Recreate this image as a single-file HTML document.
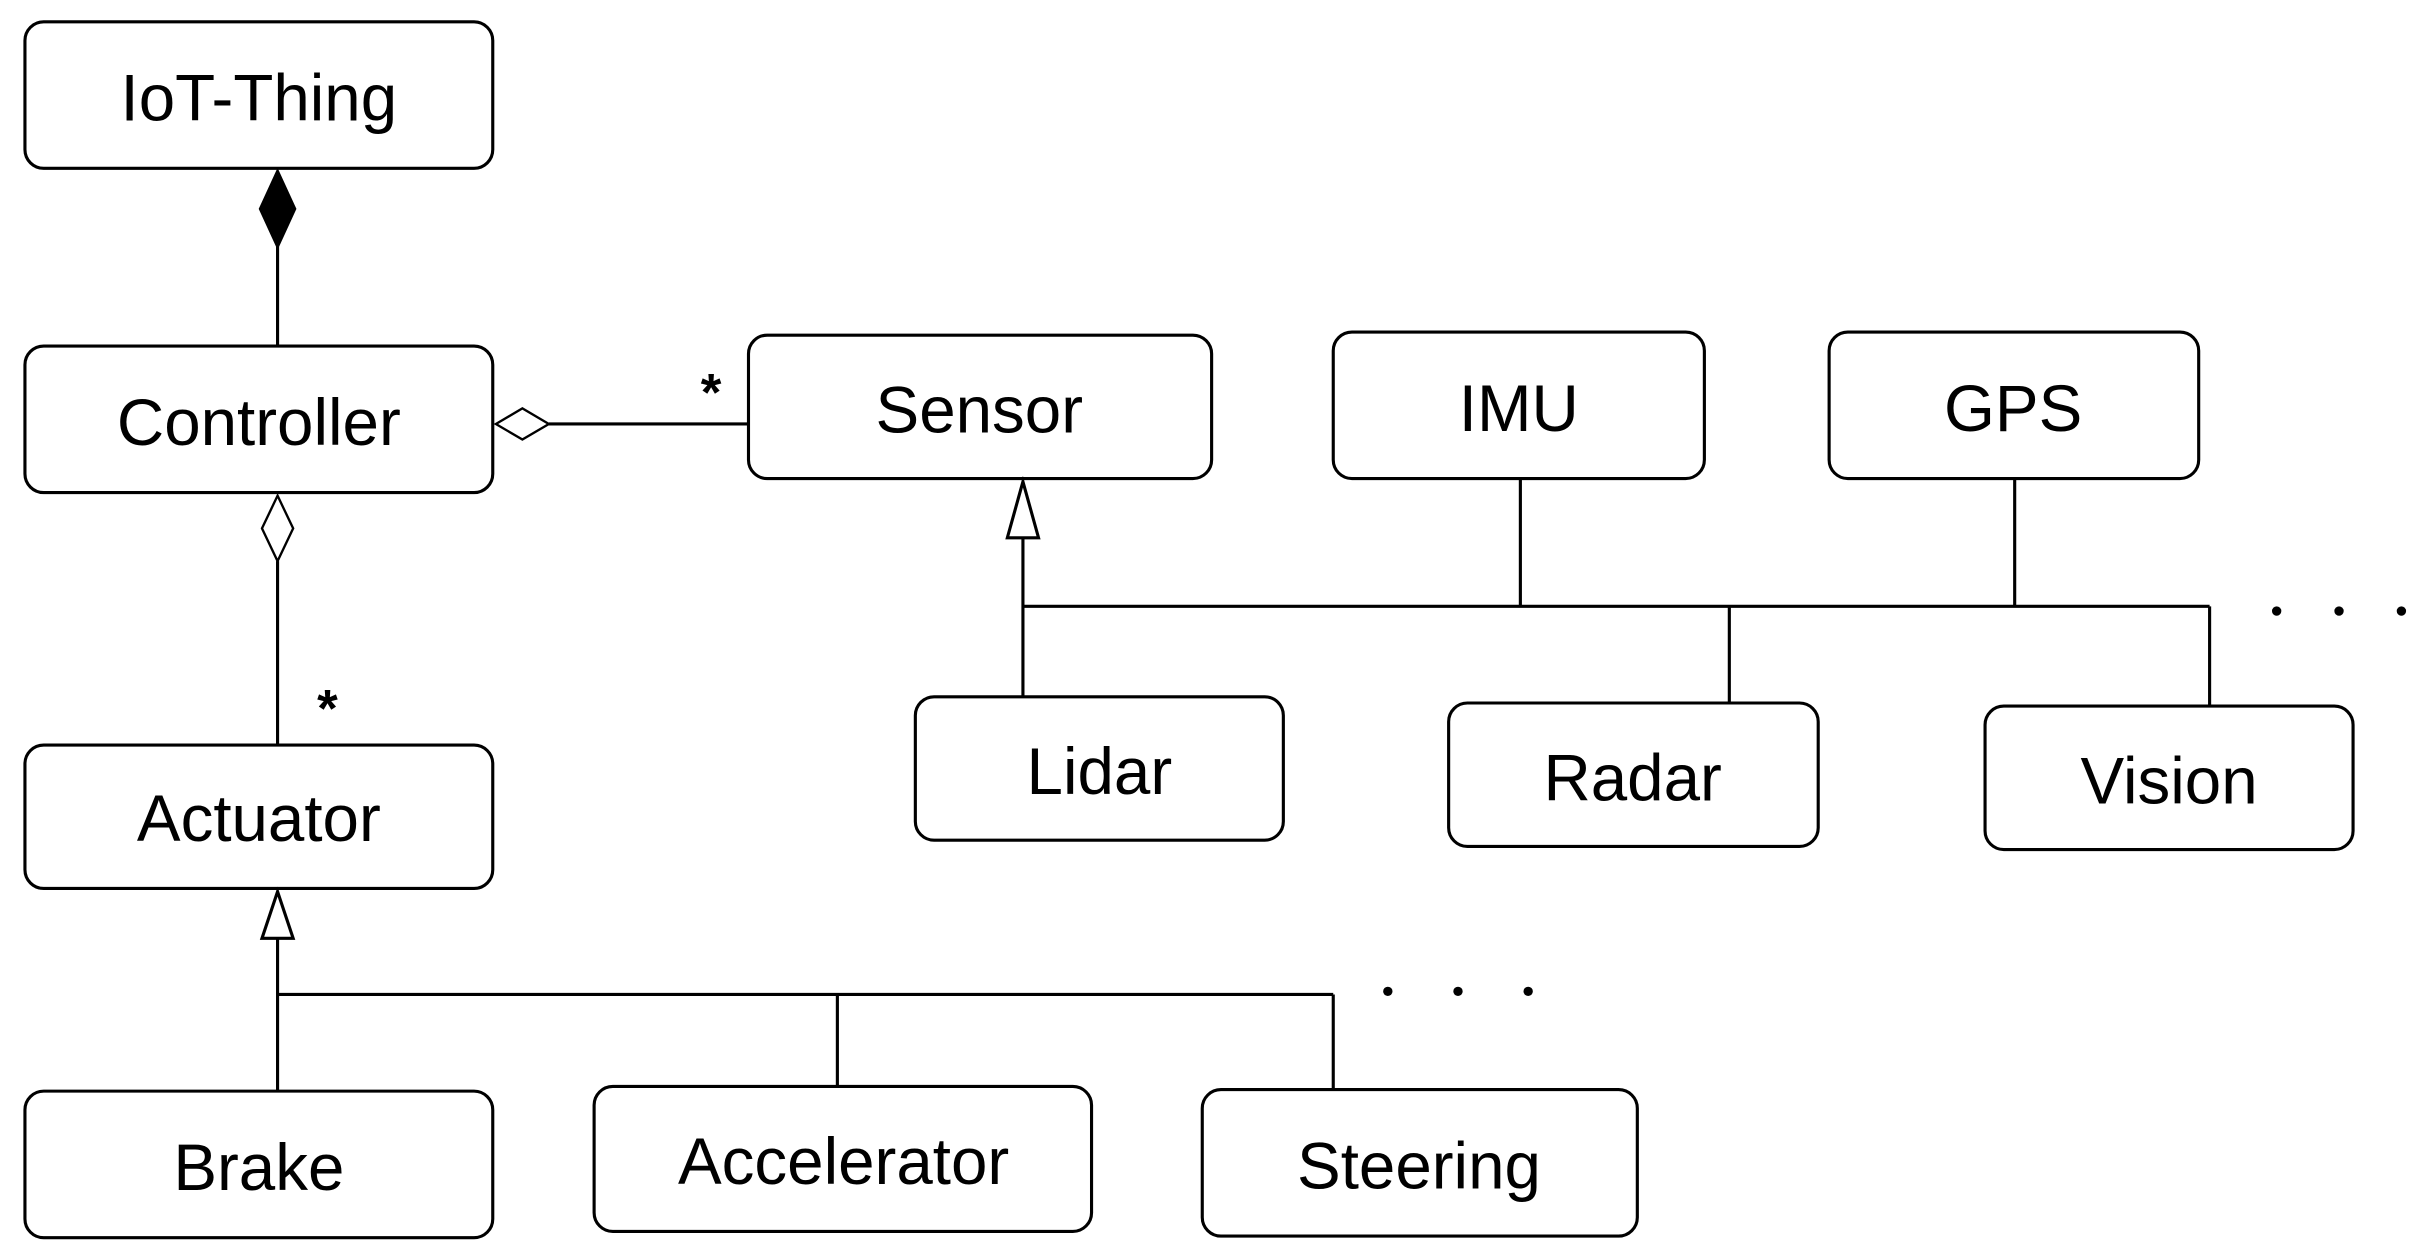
<!DOCTYPE html>
<html><head><meta charset="utf-8"><style>
html,body{margin:0;padding:0;background:#fff;}
svg{display:block}
text{font-family:"Liberation Sans",sans-serif;font-size:42px;fill:#000;text-anchor:middle;dominant-baseline:central}
</style></head><body>
<svg width="2417" height="1247" viewBox="0 0 1550 800" preserveAspectRatio="none">
<g fill="#fff" stroke="#000" stroke-width="2">
<rect x="16" y="14" width="300" height="94" rx="12"/>
<rect x="16" y="222" width="300" height="94" rx="12"/>
<rect x="480" y="215" width="297" height="92" rx="12"/>
<rect x="855" y="213" width="238" height="94" rx="12"/>
<rect x="1173" y="213" width="237" height="94" rx="12"/>
<rect x="587" y="447" width="236" height="92" rx="12"/>
<rect x="929" y="451" width="237" height="92" rx="12"/>
<rect x="1273" y="453" width="236" height="92" rx="12"/>
<rect x="16" y="478" width="300" height="92" rx="12"/>
<rect x="16" y="700" width="300" height="94" rx="12"/>
<rect x="381" y="697" width="319" height="93" rx="12"/>
<rect x="771" y="699" width="279" height="94" rx="12"/>
</g>
<g stroke="#000" stroke-width="2" fill="none">
<line x1="178" y1="158" x2="178" y2="222"/>
<line x1="352" y1="272" x2="480" y2="272"/>
<line x1="178" y1="360" x2="178" y2="478"/>
<line x1="178" y1="602" x2="178" y2="700"/>
<line x1="178" y1="638" x2="855" y2="638"/>
<line x1="537" y1="638" x2="537" y2="697"/>
<line x1="855" y1="638" x2="855" y2="699"/>
<line x1="656" y1="345" x2="656" y2="447"/>
<line x1="656" y1="389" x2="1417" y2="389"/>
<line x1="975" y1="307" x2="975" y2="389"/>
<line x1="1292" y1="307" x2="1292" y2="389"/>
<line x1="1109" y1="389" x2="1109" y2="451"/>
<line x1="1417" y1="389" x2="1417" y2="453"/>
</g>
<polygon points="178,110 189,134 178,158 167,134" fill="#000" stroke="#000" stroke-width="2"/>
<polygon points="318,272 335,262 352,272 335,282" fill="#fff" stroke="#000" stroke-width="1.5"/>
<polygon points="178,318 188,339 178,360 168,339" fill="#fff" stroke="#000" stroke-width="1.5"/>
<polygon points="178,572 188,602 168,602" fill="#fff" stroke="#000" stroke-width="2"/>
<polygon points="656,309 666,345 646,345" fill="#fff" stroke="#000" stroke-width="2"/>
<g fill="#000"><circle cx="890" cy="636" r="3"/><circle cx="935" cy="636" r="3"/><circle cx="980" cy="636" r="3"/>
<circle cx="1460" cy="392" r="3"/><circle cx="1500" cy="392" r="3"/><circle cx="1540" cy="392" r="3"/></g>
<text x="456" y="252" style="font-size:34px;font-weight:bold">*</text>
<text x="210" y="455" style="font-size:34px;font-weight:bold">*</text>
<text x="166" y="63">IoT-Thing</text>
<text x="166" y="271">Controller</text>
<text x="628" y="263">Sensor</text>
<text x="974" y="262">IMU</text>
<text x="1291" y="262">GPS</text>
<text x="705" y="495">Lidar</text>
<text x="1047" y="499">Radar</text>
<text x="1391" y="501">Vision</text>
<text x="166" y="525">Actuator</text>
<text x="166" y="749">Brake</text>
<text x="541" y="745">Accelerator</text>
<text x="910" y="748">Steering</text>
</svg>
</body></html>
